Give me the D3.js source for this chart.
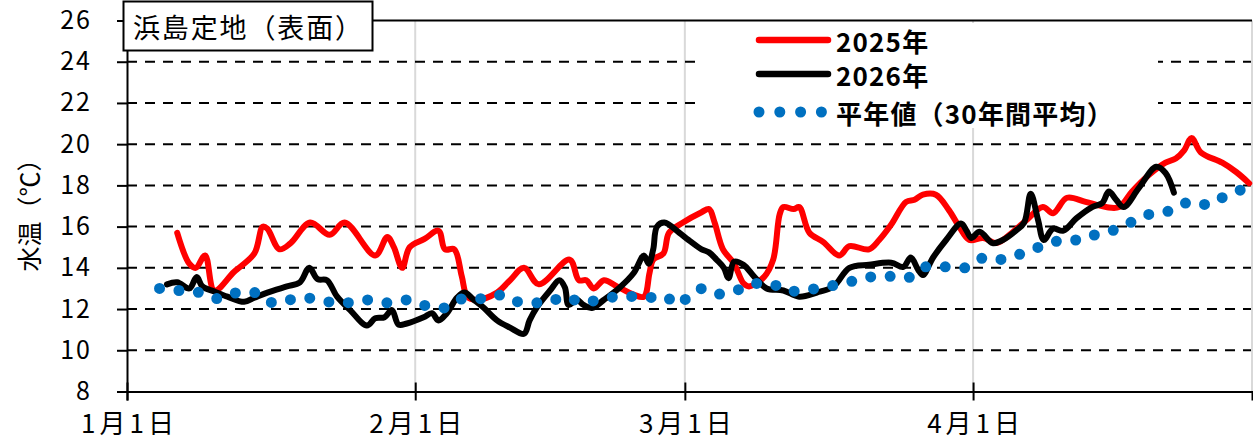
<!DOCTYPE html>
<html lang="ja">
<head>
<meta charset="utf-8">
<title>浜島定地（表面）水温</title>
<script src="https://cdn.jsdelivr.net/npm/d3@7"></script>
<style>
	body { margin: 0; background: #fff; }
	text { font-family: "Noto Sans CJK JP", sans-serif; fill: #000; }
</style>
</head>
<body>
<script>
	// days are counted from 1月1日 (= 0); the source axis gives February 29 days
	var tickDays = [0, 31, 60, 91];
	var tickLabels = ["1月1日", "2月1日", "3月1日", "4月1日"];
	var yTicks = [8, 10, 12, 14, 16, 18, 20, 22, 24, 26];
	var seriesNames = ["2025年", "2026年", "平年値（30年間平均）"];

	// 2025年
	var days2025 = [5.4, 6.7, 7.4, 8.4, 9.4, 11.5, 13.7, 14.6, 15.1, 16.4, 17.6, 19.7, 21.8, 23.4, 26.7, 28, 28.7, 29.6, 30.4, 32, 33.5, 34.2, 35.2, 36, 36.6, 37.6, 39.8, 41.2, 42.7, 44.3, 47.6, 48.6, 49.4, 50.2, 51.3, 52.7, 54.5, 55.6, 56.2, 56.6, 57.7, 58.3, 59.8, 61.8, 62.6, 63.2, 64.1, 65.3, 66.3, 66.9, 68.5, 69.5, 70.2, 70.6, 71.7, 72.3, 73.4, 74.9, 76.6, 77.7, 79.8, 80.9, 82.2, 83.8, 84.7, 85.6, 87, 88.4, 89.5, 90.6, 92.1, 93.5, 95.3, 96.7, 98.5, 99.6, 101.1, 103.1, 105.3, 106.7, 108.1, 109.9, 111.7, 112.8, 113.7, 114.5, 115.5, 117.8, 119.3, 120.7];
	var temp2025 = [15.7, 14.2, 14.0, 14.6, 12.9, 13.8, 14.7, 16.0, 15.9, 14.9, 15.2, 16.2, 15.6, 16.2, 14.6, 15.5, 15.0, 14.0, 15.0, 15.4, 15.8, 14.9, 14.9, 13.6, 12.6, 12.45, 12.8, 13.4, 14.0, 13.2, 14.4, 13.4, 13.4, 13.0, 13.4, 13.1, 12.7, 12.6, 13.75, 14.4, 14.7, 15.7, 16.2, 16.7, 16.85, 16.2, 14.9, 14.2, 13.25, 13.1, 13.55, 14.4, 16.6, 16.95, 16.85, 16.95, 15.7, 15.25, 14.6, 15.05, 14.9, 15.35, 16.1, 17.2, 17.3, 17.55, 17.55, 16.8, 16.0, 15.35, 15.45, 15.2, 15.75, 16.3, 16.95, 16.65, 17.4, 17.2, 16.95, 16.95, 17.7, 18.5, 19.1, 19.3, 19.7, 20.3, 19.6, 19.1, 18.65, 18.1];

	// 2026年
	var days2026 = [4.3, 5.4, 6.7, 7.5, 8.1, 9.4, 10.8, 12.6, 13.7, 15.1, 17.2, 18.6, 19.6, 20.5, 21.5, 22.6, 24, 25.8, 26.7, 27.7, 28.5, 29.2, 30.1, 31.9, 32.8, 33.5, 34.4, 35.5, 36.3, 37.3, 38.4, 39.8, 41.2, 42.7, 43.3, 44.1, 45.5, 46.5, 47.1, 47.5, 48.4, 49.1, 50, 51.3, 53, 54.5, 55.6, 56.1, 56.6, 57, 57.8, 59.4, 60.4, 61.8, 62.6, 63.4, 64.2, 64.7, 65.3, 66.3, 67.5, 68.8, 70.6, 72.3, 74.2, 76, 77.7, 79.8, 82.2, 83.5, 84.3, 85.1, 85.6, 86.7, 88.1, 89.7, 90.3, 90.8, 91.7, 93.1, 94.2, 95.6, 96.5, 97.2, 98, 98.6, 99.6, 100.7, 102.1, 103.8, 104.9, 105.6, 106.4, 107.2, 108.8, 110.7, 111.7, 112.6];
	var temp2026 = [13.2, 13.3, 13.0, 13.55, 13.1, 12.85, 12.6, 12.35, 12.55, 12.8, 13.1, 13.3, 14.0, 13.45, 13.4, 12.6, 11.95, 11.2, 11.55, 11.6, 11.95, 11.25, 11.3, 11.6, 11.8, 11.45, 11.8, 12.55, 12.8, 12.45, 12.05, 11.45, 11.1, 10.8, 11.45, 12.1, 12.9, 13.4, 13.05, 12.2, 12.45, 12.2, 12.05, 12.45, 13.05, 13.75, 14.6, 14.2, 14.9, 16.0, 16.2, 15.7, 15.35, 14.9, 14.75, 14.4, 14.0, 13.5, 14.3, 14.15, 13.55, 13.0, 12.9, 12.6, 12.8, 13.1, 14.0, 14.15, 14.25, 14.05, 14.5, 13.9, 13.65, 14.5, 15.35, 16.15, 15.8, 15.45, 15.75, 15.2, 15.35, 15.8, 16.2, 17.6, 16.3, 15.35, 15.9, 15.8, 16.4, 16.95, 17.15, 17.7, 17.3, 16.95, 17.85, 18.9, 18.6, 17.65];

	// 平年値（30年間平均）
	var daysAvg = [3.5, 5.6, 7.9, 9.7, 11.8, 13.9, 15.6, 17.5, 19.4, 21.5, 23.7, 25.8, 27.9, 30.1, 32.2, 34.2, 36, 38, 40, 40.8, 42.8, 45, 47, 49.1, 51.3, 53.1, 54.6, 56.1, 57.8, 59.3, 60.4, 61.7, 63.4, 65.3, 67.4, 69.5, 71.4, 73.5, 75.5, 77.6, 79.6, 81.8, 84, 85.9, 88, 90.1, 92.1, 94.2, 96.3, 98.3, 100.4, 102.5, 104.4, 106.4, 108.4, 110.2, 112.1, 114.1, 116.3, 118.2, 120.5];
	var tempAvg = [13.0, 12.9, 12.8, 12.5, 12.8, 12.8, 12.3, 12.45, 12.55, 12.35, 12.3, 12.45, 12.3, 12.45, 12.15, 12.05, 12.5, 12.5, 12.7, 12.45, 12.3, 12.3, 12.6, 12.3, 12.5, 12.65, 12.6, 12.55, 12.65, 12.2, 12.6, 13.0, 12.7, 12.85, 13.25, 13.2, 12.85, 12.95, 13.1, 13.3, 13.55, 13.6, 13.5, 14.05, 14.05, 14.0, 14.5, 14.4, 14.7, 15.05, 15.35, 15.35, 15.65, 15.85, 16.3, 16.65, 16.75, 17.2, 17.05, 17.5, 17.9];

	var w = 1253;
	var h = 447;

	var svg = d3.select("body")
		.append("svg")
		.attr("width", w)
		.attr("height", h);

	var x = d3.scaleLinear().domain([0, 121]).range([127, 1252]);
	var y = d3.scaleLinear().domain([8, 26]).range([391.5, 20.5]);

	// vertical month gridlines
	svg.selectAll(".vgrid")
		.data(tickDays.slice(1))
		.enter()
		.append("line")
		.attr("x1", function(d) { return x(d); })
		.attr("x2", function(d) { return x(d); })
		.attr("y1", y(26))
		.attr("y2", y(8))
		.attr("stroke", "#d9d9d9")
		.attr("stroke-width", 2);

	// dashed horizontal gridlines
	svg.selectAll(".hgrid")
		.data(yTicks.filter(function(d) { return d > 8 && d < 26; }))
		.enter()
		.append("line")
		.attr("x1", x(0))
		.attr("x2", x(121))
		.attr("y1", function(d) { return y(d); })
		.attr("y2", function(d) { return y(d); })
		.attr("stroke", "#000")
		.attr("stroke-width", 2)
		.attr("stroke-dasharray", "10 8");

	// right edge and top border
	svg.append("line")
		.attr("x1", x(121)).attr("x2", x(121))
		.attr("y1", y(26)).attr("y2", y(8))
		.attr("stroke", "#d9d9d9").attr("stroke-width", 2);
	svg.append("line")
		.attr("x1", x(0)).attr("x2", x(121))
		.attr("y1", y(26)).attr("y2", y(26))
		.attr("stroke", "#000").attr("stroke-width", 2);

	// y axis
	var yAxis = svg.append("g")
		.attr("transform", "translate(" + x(0) + ",0)")
		.call(d3.axisLeft(y).tickValues(yTicks).tickSize(10).tickPadding(25));
	yAxis.select(".domain").attr("stroke-width", 2);
	yAxis.selectAll(".tick line").attr("stroke-width", 2);
	yAxis.selectAll(".tick text")
		.style("font-size", "25px")
		.style("letter-spacing", "2px")
		.style("font-family", "'Noto Sans CJK JP', sans-serif");

	// x axis
	var xAxis = svg.append("g")
		.attr("transform", "translate(0," + y(8) + ")")
		.call(d3.axisBottom(x).tickValues(tickDays)
			.tickFormat(function(d, i) { return tickLabels[i]; })
			.tickSizeOuter(0).tickSize(9));
	xAxis.select(".domain").attr("stroke-width", 2);
	xAxis.selectAll(".tick line").attr("y1", -9).attr("stroke-width", 2);
	xAxis.selectAll(".tick text")
		.attr("y", 41)
		.attr("dy", 0)
		.attr("dx", 2)
		.style("font-size", "26px")
		.style("letter-spacing", "4px")
		.style("font-family", "'Noto Sans CJK JP', sans-serif");

	// y axis title
	svg.append("text")
		.attr("text-anchor", "middle")
		.attr("dominant-baseline", "central")
		.attr("transform", "translate(28, 209) rotate(-90)")
		.style("font-size", "25px")
		.text("水温（℃）");

	// series
	function pts(days, temps) {
		return days.map(function(d, i) { return [d, temps[i]]; });
	}
	var line = d3.line()
		.x(function(d) { return x(d[0]); })
		.y(function(d) { return y(d[1]); })
		.curve(d3.curveCatmullRom.alpha(0.5));

	svg.append("path")
		.datum(pts(days2025, temp2025))
		.attr("d", line)
		.attr("fill", "none")
		.attr("stroke", "#ff0000")
		.attr("stroke-width", 6)
		.attr("stroke-linejoin", "round")
		.attr("stroke-linecap", "round");

	svg.append("path")
		.datum(pts(days2026, temp2026))
		.attr("d", line)
		.attr("fill", "none")
		.attr("stroke", "#000")
		.attr("stroke-width", 6)
		.attr("stroke-linejoin", "round")
		.attr("stroke-linecap", "round");

	svg.append("path")
		.datum(pts(daysAvg, tempAvg))
		.attr("d", line.curve(d3.curveLinear))
		.attr("fill", "none")
		.attr("stroke", "#0070c0")
		.attr("stroke-width", 11)
		.attr("stroke-linecap", "round")
		.attr("stroke-dasharray", "0 19.5");

	// legend
	var lg = svg.append("g");
	lg.append("rect")
		.attr("x", 697).attr("y", 23)
		.attr("width", 461).attr("height", 105)
		.attr("fill", "#fff");
	var legendY = [40, 74, 112];
	var legendStyle = [
		{ color: "#ff0000", width: 6.5, dash: null },
		{ color: "#000", width: 6.5, dash: null },
		{ color: "#0070c0", width: 11, dash: "0 20.8" }
	];
	seriesNames.forEach(function(name, i) {
		lg.append("line")
			.attr("x1", 759).attr("x2", i === 2 ? 821.4 : 828)
			.attr("y1", legendY[i]).attr("y2", legendY[i])
			.attr("stroke", legendStyle[i].color)
			.attr("stroke-width", legendStyle[i].width)
			.attr("stroke-linecap", "round")
			.attr("stroke-dasharray", legendStyle[i].dash);
		lg.append("text")
			.attr("x", 836)
			.attr("y", legendY[i])
			.attr("dominant-baseline", "central")
			.style("font-size", "26px")
			.style("font-weight", "bold")
			.style("letter-spacing", "1.2px")
			.text(name);
	});

	// title box
	svg.append("rect")
		.attr("x", 123.5).attr("y", 1.5)
		.attr("width", 249).attr("height", 49)
		.attr("fill", "#fff")
		.attr("stroke", "#000")
		.attr("stroke-width", 2);
	svg.append("text")
		.attr("x", 133)
		.attr("y", 26)
		.attr("dominant-baseline", "central")
		.attr("textLength", 229)
		.style("font-size", "27px")
		.text("浜島定地（表面）");
</script>
</body>
</html>
